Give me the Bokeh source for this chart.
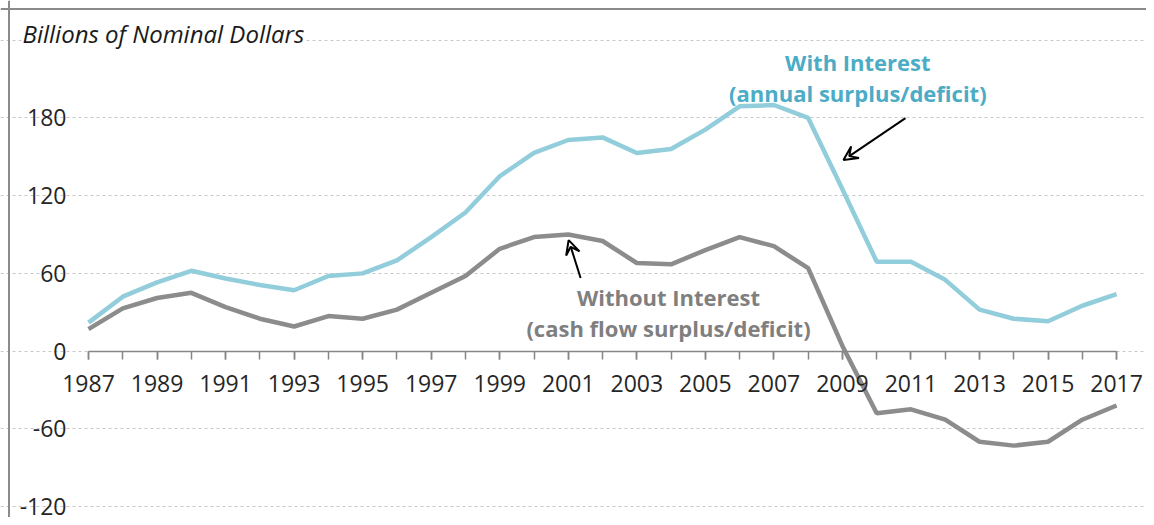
from bokeh.plotting import figure
from bokeh.models import Range1d, FixedTicker, Label, Arrow, VeeHead, Span
from bokeh.embed import file_html
from bokeh.resources import INLINE

years = list(range(1987, 2018))
with_interest = [22, 42, 53, 62, 56, 51, 47, 58, 60, 70, 88, 107, 135, 153, 163, 165, 153, 156, 171, 189, 190, 180,
                 125, 69, 69, 55, 32, 25, 23, 35, 44]
without_interest = [17, 33, 41, 45, 34, 25, 19, 27, 25, 32, 45, 58, 79, 88, 90, 85, 68, 67, 78, 88, 81, 64,
                    4, -48, -45, -53, -70, -73, -70, -53, -42]
x_tick_labels = [str(y) for y in range(1987, 2018, 2)]
y_ticks = [-120, -60, 0, 60, 120, 180, 240]
y_tick_labels = ["-120", "-60", "0", "60", "120", "180", ""]

FONT = "Open Sans"
BLUE = "#92cddc"
GREY = "#8c8c8c"

p = figure(width=1146, height=517, output_backend="svg", toolbar_location=None,
           x_range=Range1d(1984.432, 2017.873), y_range=Range1d(-128.5, 270.7),
           min_border_left=0, min_border_right=0, min_border_top=0, min_border_bottom=0)
p.outline_line_color = None
p.background_fill_color = "white"
p.border_fill_color = "white"

# grid
p.xgrid.grid_line_color = None
p.ygrid.grid_line_color = "#c8c8c8"
p.ygrid.grid_line_dash = "3 3"
p.ygrid.grid_line_width = 1
p.ygrid.bounds = (1987, 2017)

# x axis at zero
p.xaxis.fixed_location = 0
p.xaxis.bounds = (1987, 2017)
p.xaxis.ticker = FixedTicker(ticks=[int(s) for s in x_tick_labels], minor_ticks=years)
p.xaxis.axis_line_color = "#868686"
p.xaxis.axis_line_width = 1.5
p.xaxis.major_tick_line_color = "#868686"
p.xaxis.minor_tick_line_color = "#868686"
p.xaxis.major_tick_line_width = 1.5
p.xaxis.minor_tick_line_width = 1.5
p.xaxis.major_tick_in = 0
p.xaxis.major_tick_out = 8
p.xaxis.minor_tick_in = 0
p.xaxis.minor_tick_out = 8
p.xaxis.major_label_text_font = FONT
p.xaxis.major_label_text_font_size = "23px"
p.xaxis.major_label_text_color = "#262626"
p.xaxis.major_label_standoff = 16

# y axis anchored at the first year
p.yaxis.fixed_location = 1987
p.yaxis.ticker = FixedTicker(ticks=y_ticks)
p.ygrid.ticker = FixedTicker(ticks=y_ticks)
p.yaxis.major_label_overrides = dict(zip(y_ticks, y_tick_labels))
p.yaxis.axis_line_color = None
p.yaxis.major_tick_line_color = None
p.yaxis.minor_tick_line_color = None
p.yaxis.major_label_text_font = FONT
p.yaxis.major_label_text_font_size = "23px"
p.yaxis.major_label_text_color = "#262626"
p.yaxis.major_label_standoff = 16

# chart border (left and top)
p.add_layout(Span(location=1984.680, dimension="height", line_color="#8a8a8a", line_width=2))
p.add_layout(Span(location=264.2, dimension="width", line_color="#8a8a8a", line_width=2))

# series
p.line(years, with_interest, line_color=BLUE, line_width=4.5)
p.line(years, without_interest, line_color=GREY, line_width=4.5)

# title
p.add_layout(Label(x=1985.074, y=245.6, text="Billions of Nominal Dollars", text_font=FONT,
                   text_font_style="italic", text_font_size="24px", text_color="#1a1a1a",
                   text_baseline="alphabetic", text_align="left", background_fill_color="white"))

# annotations
p.add_layout(Label(x=2009.45, y=223.2, text="With Interest", text_font=FONT, text_font_style="bold",
                   text_font_size="22px", text_color="#4bacc6", text_align="center", text_baseline="alphabetic"))
p.add_layout(Label(x=2009.45, y=199.3, text="(annual surplus/deficit)", text_font=FONT, text_font_style="bold",
                   text_font_size="22px", text_color="#4bacc6", text_align="center", text_baseline="alphabetic"))
p.add_layout(Label(x=2003.925, y=41.7, text="Without Interest", text_font=FONT, text_font_style="bold",
                   text_font_size="22px", text_color="#7f7f7f", text_align="center", text_baseline="alphabetic"))
p.add_layout(Label(x=2003.925, y=17.8, text="(cash flow surplus/deficit)", text_font=FONT, text_font_style="bold",
                   text_font_size="22px", text_color="#7f7f7f", text_align="center", text_baseline="alphabetic"))

p.add_layout(Arrow(x_start=2010.84, y_start=179.9, x_end=2009.03, y_end=147.5, line_color="black", line_width=2,
                   end=VeeHead(size=14, line_color="black", line_width=2, fill_color=None)))
p.add_layout(Arrow(x_start=2001.36, y_start=56.4, x_end=2001.01, y_end=85.7, line_color="black", line_width=2,
                   end=VeeHead(size=14, line_color="black", line_width=2, fill_color=None)))

open("out.html", "w").write(file_html(p, INLINE))
